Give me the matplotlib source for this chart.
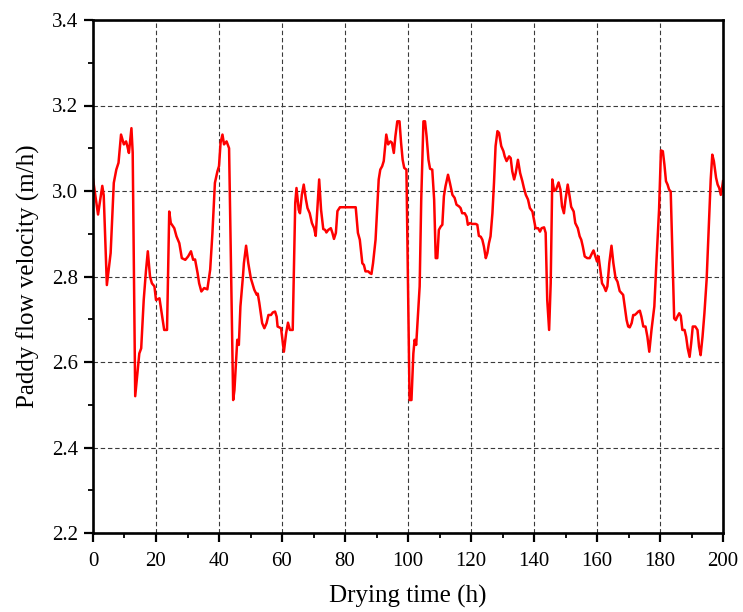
import matplotlib
matplotlib.use("Agg")
import matplotlib.pyplot as plt
from matplotlib.ticker import MultipleLocator

# Drying time (h) and paddy flow velocity (m/h)
time_h = [
    0.0, 1.6, 2.95, 3.4, 4.4, 5.6, 6.6, 7.4, 8.1, 8.9, 9.8, 10.5, 10.9, 11.4, 12.2, 12.6,
    13.4, 14.0, 14.7, 15.3, 16.1, 16.8, 17.4, 18.1, 18.7, 19.5, 20.0, 21.1, 21.8, 22.6, 23.5,
    24.2, 24.7, 25.8, 26.5, 27.4, 28.2, 29.3, 30.2, 31.1, 31.8, 32.4, 33.2, 33.7, 34.4, 35.3,
    36.3, 37.2, 37.9, 38.7, 39.5, 40.0, 40.5, 41.1, 41.6, 42.4, 43.2,
    44.5, 44.9, 45.8, 46.3, 46.8, 47.6, 47.9, 48.6, 49.3, 50.1, 51.2, 52.0, 52.3, 52.8, 53.7,
    54.4, 55.1, 55.7, 56.5, 57.1, 57.8, 58.3, 58.6, 59.7, 60.6, 61.3, 61.9, 62.5, 63.4,
    64.2, 64.6, 65.3, 65.7, 66.3, 66.9, 67.6, 68.1, 68.8, 69.5, 70.2, 70.7, 71.2, 71.8, 72.4,
    73.1, 73.7, 74.1, 74.7, 75.5, 76.0, 76.5, 77.1, 77.6, 78.4, 83.4, 84.1, 84.7, 85.5, 86.0,
    86.5, 87.4, 87.9, 88.4, 88.9, 89.7, 90.2, 90.7, 91.2, 91.8, 92.3, 93.1, 93.7, 94.4, 94.9,
    95.5, 96.0, 96.6, 97.3, 97.8, 98.3, 98.8, 99.5,
    100.5, 101.1, 101.7, 102.1, 102.6, 103.2, 103.7, 104.2, 104.9, 105.4, 105.9, 106.5, 107.0,
    107.7, 108.3, 108.8, 109.3, 109.8, 110.4, 110.9, 111.4, 111.9, 112.7, 113.3, 114.1, 114.8,
    115.4, 116.2, 116.7, 117.2, 118.0, 118.6, 119.0, 119.7, 120.3, 121.5, 122.0, 122.5, 123.1,
    123.6, 124.1, 124.7, 125.2, 125.7, 126.2, 126.8, 127.3, 127.8, 128.4, 128.9, 129.6, 130.3,
    130.7, 131.3, 132.1, 132.6, 133.1, 133.7, 134.2, 134.9, 135.6, 136.3, 136.8, 137.4, 138.1,
    138.7, 139.5, 140.0, 140.5, 141.3, 141.9, 142.4, 143.2, 143.7, 144.2, 144.8, 145.3,
    145.8, 146.4, 147.0, 147.8, 148.4, 148.9, 149.5, 150.0, 150.7, 151.3, 151.8, 152.6, 153.1,
    153.9, 154.5, 155.0, 155.5, 156.1, 156.9, 157.7, 158.2, 158.9, 159.5, 160.0, 160.5, 161.1,
    161.6, 162.2, 162.8, 163.3, 163.9, 164.6, 165.2, 165.9, 166.5, 167.2, 167.8, 168.3, 168.8,
    169.4, 169.9, 170.4, 171.0, 171.5, 172.0, 172.6, 173.1, 173.6, 174.1, 174.7, 175.4, 176.0,
    176.6, 177.3, 178.2, 178.9, 179.7, 180.3, 180.9, 181.4, 181.9, 182.4, 182.9, 183.4, 183.9,
    184.5, 185.0, 185.5, 186.1, 186.6, 187.1, 187.8, 188.3, 188.8, 189.4, 189.9, 190.4, 191.2,
    191.9, 192.4, 192.9, 193.5, 194.1, 194.8, 195.4, 196.1, 196.6, 197.1, 197.8, 198.3, 198.8,
    199.3, 199.7, 200.0,
]
velocity = [
    3.028, 2.945, 3.012, 2.990, 2.780, 2.855, 3.019, 3.050, 3.066, 3.132, 3.109, 3.116, 3.105, 3.089, 3.147, 3.090,
    2.520, 2.566, 2.620, 2.632, 2.745, 2.812, 2.859, 2.800, 2.784, 2.777, 2.745, 2.749, 2.714, 2.675, 2.675,
    2.952, 2.925, 2.913, 2.894, 2.878, 2.843, 2.839, 2.847, 2.859, 2.839, 2.840, 2.808, 2.784, 2.765, 2.773,
    2.770, 2.816, 2.900, 3.019, 3.046, 3.058, 3.113, 3.132, 3.109, 3.116, 3.100,
    2.511, 2.534, 2.652, 2.640, 2.730, 2.800, 2.831, 2.872, 2.831, 2.796, 2.769, 2.757, 2.760, 2.738, 2.691,
    2.679, 2.691, 2.710, 2.710, 2.716, 2.718, 2.706, 2.683, 2.679, 2.624, 2.667, 2.692, 2.675, 2.675,
    2.972, 3.007, 2.956, 2.948, 2.991, 3.015, 2.980, 2.960, 2.948, 2.925, 2.913, 2.895, 2.956, 3.027, 2.956,
    2.911, 2.909, 2.903, 2.909, 2.913, 2.902, 2.888, 2.902, 2.953, 2.962, 2.962, 2.902, 2.886, 2.831, 2.827,
    2.812, 2.812, 2.808, 2.806, 2.831, 2.886, 2.956, 3.027, 3.050, 3.058, 3.070, 3.132, 3.109, 3.116, 3.113,
    3.089, 3.128, 3.163, 3.163, 3.113, 3.073, 3.054, 3.050,
    2.511, 2.511, 2.620, 2.652, 2.640, 2.714, 2.777, 2.980, 3.163, 3.163, 3.128, 3.073, 3.052,
    3.050, 2.980, 2.843, 2.843, 2.909, 2.917, 2.921, 2.988, 3.011, 3.038, 3.019, 2.991, 2.984,
    2.968, 2.964, 2.960, 2.948, 2.948, 2.940, 2.921, 2.925, 2.923, 2.923, 2.921, 2.895, 2.893,
    2.886, 2.870, 2.843, 2.855, 2.878, 2.894, 2.948, 3.019, 3.105, 3.140, 3.136, 3.105, 3.093,
    3.081, 3.070, 3.081, 3.077, 3.046, 3.027, 3.042, 3.073, 3.042, 3.023, 3.007, 2.991, 2.980,
    2.960, 2.952, 2.933, 2.913, 2.913, 2.905, 2.913, 2.915, 2.902, 2.745, 2.675, 2.784,
    3.027, 3.000, 3.003, 3.020, 3.003, 2.964, 2.948, 2.980, 3.015, 2.988, 2.963, 2.952, 2.925,
    2.913, 2.894, 2.886, 2.870, 2.847, 2.843, 2.843, 2.851, 2.861, 2.847, 2.835, 2.847, 2.812,
    2.784, 2.777, 2.766, 2.777, 2.831, 2.872, 2.831, 2.796, 2.788, 2.766, 2.761, 2.757, 2.730,
    2.698, 2.683, 2.681, 2.691, 2.710, 2.710, 2.714, 2.718, 2.720, 2.706, 2.683, 2.683, 2.659,
    2.624, 2.675, 2.730, 2.839, 2.956, 3.095, 3.093, 3.062, 3.023, 3.015, 3.003, 2.999, 2.863,
    2.702, 2.698, 2.706, 2.714, 2.708, 2.675, 2.675, 2.659, 2.632, 2.612, 2.644, 2.683, 2.683,
    2.675, 2.636, 2.616, 2.659, 2.714, 2.792, 2.902, 3.027, 3.085, 3.070, 3.031, 3.015, 3.007,
    2.991, 3.007, 3.023,
]

x_ticks = [0, 20, 40, 60, 80, 100, 120, 140, 160, 180, 200]
y_ticks = [2.2, 2.4, 2.6, 2.8, 3.0, 3.2, 3.4]

plt.rcParams["font.family"] = ["Liberation Serif", "DejaVu Serif"]

fig = plt.figure(figsize=(7.43, 6.12), dpi=100)
ax = fig.add_axes([93 / 743, 79 / 612, 630 / 743, 513 / 612])

ax.plot(time_h, velocity, color="#ff0000", lw=1.8, solid_joinstyle="round")

ax.set_xlim(0, 200)
ax.set_ylim(2.2, 3.4)
ax.set_xticks(x_ticks)
ax.set_yticks(y_ticks)
ax.set_yticklabels([f"{v:.1f}" for v in y_ticks])
ax.xaxis.set_minor_locator(MultipleLocator(10))
ax.yaxis.set_minor_locator(MultipleLocator(0.1))

ax.grid(True, which="major", color="#3a3a3a", linestyle=(0, (4, 2.5)), lw=0.8)
ax.set_axisbelow(True)

for side in ["left", "bottom", "right", "top"]:
    ax.spines[side].set_linewidth(1.9)
ax.tick_params(which="major", direction="out", length=6.5, width=1.6,
               labelsize=15, top=False, right=False)
ax.tick_params(axis="x", which="major", pad=7)
ax.tick_params(axis="y", which="major", pad=4)
ax.tick_params(which="minor", direction="out", length=3.6, width=1.3,
               top=False, right=False)

ax.set_xlabel("Drying time (h)", fontsize=18, labelpad=10)
ax.set_ylabel("Paddy flow velocity (m/h)", fontsize=18, labelpad=9)

fig.savefig("out.png", dpi=100)
